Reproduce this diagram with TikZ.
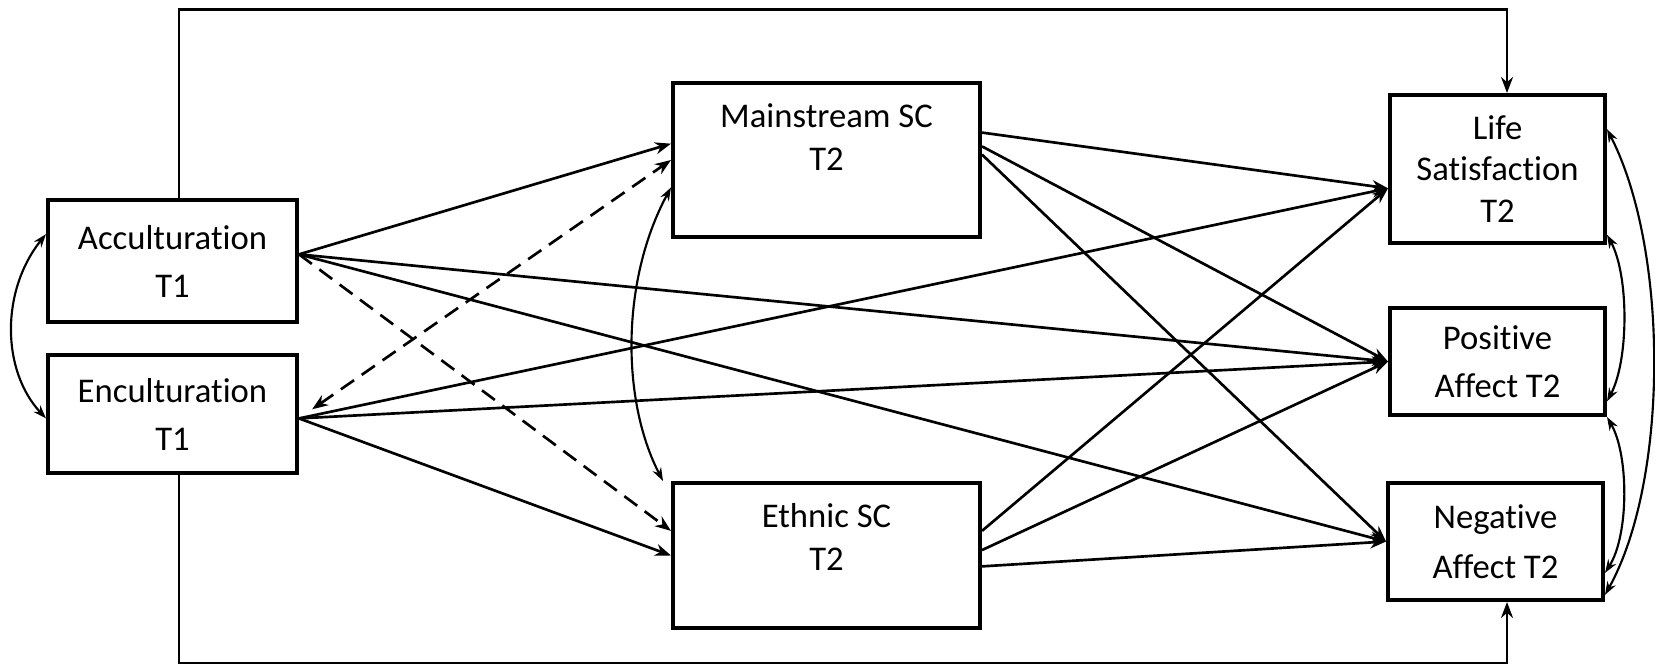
\documentclass[tikz,border=0pt]{standalone}
\usepackage{fontspec}
\setmainfont{Carlito}[Ligatures={NoCommon,NoRare,NoContextual}]
\usetikzlibrary{arrows.meta}

\begin{document}
\begin{tikzpicture}[x=0.75pt,y=0.75pt,yscale=-1,xscale=1,
  varbox/.style={draw, line width=3pt, rectangle, inner sep=0pt, align=center, font=\fontsize{26}{36}\selectfont},
  boxtext/.style={inner sep=0pt, align=center, font=\fontsize{26}{32}\selectfont},
  effect/.style={line width=2pt, -{Stealth[length=12pt,width=9pt]}},
  indirect/.style={effect, dash pattern=on 12pt off 7pt},
  covar/.style={line width=1.6pt, {Stealth[length=10pt,width=7pt]}-{Stealth[length=10pt,width=7pt]}}]
  \useasboundingbox (0,0) rectangle (1655,666);

  % T1 predictors
  \node[varbox, minimum width=186.75pt, minimum height=91.5pt] (acc) at (172.5,261) {Acculturation\\T1};
  \node[varbox, minimum width=186.75pt, minimum height=88.5pt] (enc) at (172.5,414) {Enculturation\\T1};

  % mediators
  \node[varbox, minimum width=230.25pt, minimum height=115.5pt] (msc) at (826.5,160) {};
  \node[boxtext] (msctext) at (826.5,137) {Mainstream SC\\T2};
  \node[varbox, minimum width=230.25pt, minimum height=108.75pt] (esc) at (826.5,555.5) {};
  \node[boxtext] (esctext) at (826.5,537) {Ethnic SC\\T2};

  % outcomes
  \node[varbox, minimum width=161.25pt, minimum height=111pt, font=\fontsize{26}{31}\selectfont] (ls) at (1497.5,169) {Life\\Satisfaction\\T2};
  \node[varbox, minimum width=161.25pt, minimum height=80.25pt] (pa) at (1497.5,361.5) {Positive\\Affect T2};
  \node[varbox, minimum width=161.25pt, minimum height=87.75pt, font=\fontsize{26}{37.5}\selectfont] (na) at (1495.5,541.5) {Negative\\Affect T2};

  % direct paths round the outside
  \draw[effect] (179,0 |- acc.north) -- (179,9.5) -- (1507,9.5) -- (1507,0 |- ls.north);
  \draw[effect] (179,0 |- enc.south) -- (179,663) -- (1507,663) -- (1507,0 |- na.south);

  % acculturation
  \draw[effect] (acc.3) -- (msc.174);
  \draw[effect] (acc.3) -- (pa.west);
  \draw[effect] (acc.3) -- (na.west);
  \draw[indirect] (acc.3) -- (esc.171);

  % enculturation
  \draw[effect] (enc.-2) -- (ls.190);
  \draw[effect] (enc.-2) -- (pa.west);
  \draw[effect] (enc.-2) -- (esc.west);
  \draw[indirect, {Stealth[length=12pt,width=9pt,open]}-{Stealth[length=12pt,width=9pt]}, shorten <=12pt] (enc.-2) -- (msc.west);

  % mainstream SC
  \draw[effect] (msc.10) -- (ls.190);
  \draw[effect] (msc.5) -- (pa.west);
  \draw[effect] (msc.2) -- (na.west);

  % ethnic SC
  \draw[effect] (esc.9) -- (ls.190);
  \draw[effect] (esc.2) -- (pa.west);
  \draw[effect] (esc.-4) -- (na.west);

  % correlations
  \draw[covar] (acc.168) .. controls (1,290) and (1,370) .. (enc.182);
  \draw[covar] (msc.190) .. controls (621,280) and (621,400) .. ([xshift=-6pt]esc.north west);
  \draw[covar] (ls.-31) .. controls (1629,275) and (1629,360) .. (pa.-20);
  \draw[covar] (pa.south east) .. controls (1629,455) and (1629,535) .. (na.-16);
  \draw[covar] (ls.20) .. controls (1669,250) and (1669,480) .. (na.-26);

\end{tikzpicture}
\end{document}
